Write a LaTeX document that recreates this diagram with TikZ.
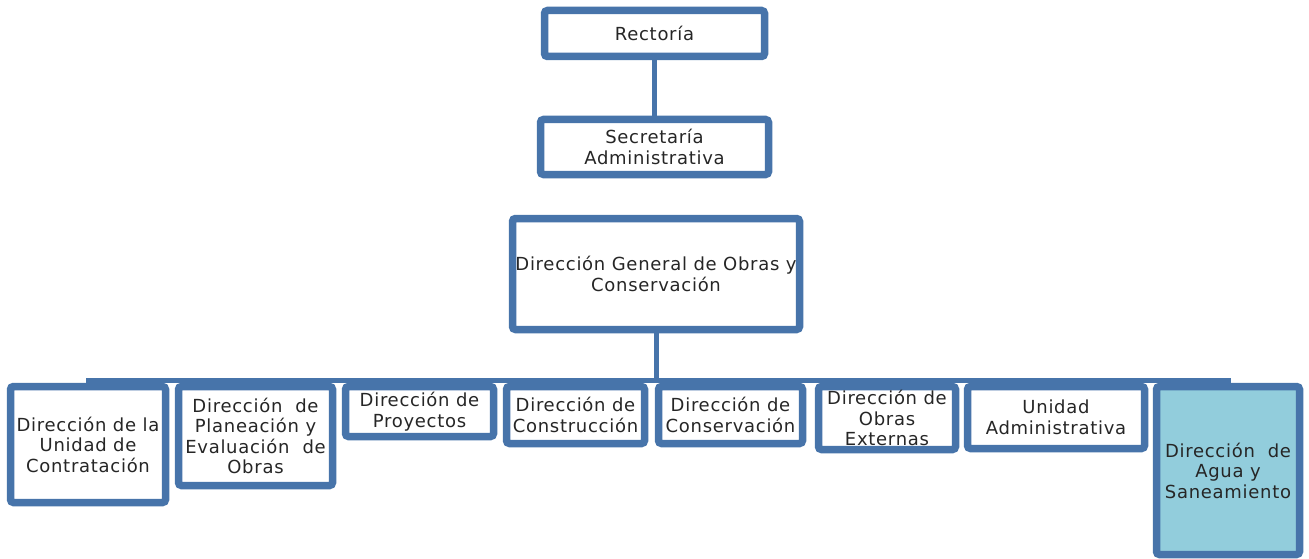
\documentclass[tikz,border=0pt]{standalone}
\usepackage{fontspec}
\setmainfont{DejaVu Sans}[LetterSpace=4]
\usetikzlibrary{shadows,backgrounds}
\definecolor{orgblue}{RGB}{71,116,170}
\definecolor{orgcyan}{RGB}{146,205,220}
\tikzset{
  orgbox/.style={draw=orgblue, line width=7.5pt, fill=white, rounded corners=3pt,
    align=center, inner sep=1pt, text=black!85,
    font=\fontsize{18}{20.5}\selectfont,
    drop shadow={shadow xshift=1.5pt, shadow yshift=-2.5pt, opacity=0.3, fill=black!70}},
  highlight/.style={fill=orgcyan},
  conn/.style={draw=orgblue, line width=5pt}
}
\begin{document}
\begin{tikzpicture}[x=1pt,y=-1pt]
\useasboundingbox (0,0) rectangle (1309,559);

% top of the chart
\node[orgbox, minimum width=220pt, minimum height=46pt] (rect) at (654.5,33.5) {Rectoría};
\node[orgbox, minimum width=228pt, minimum height=55pt] (sec) at (654.5,147) {Secretaría\\Administrativa};
\node[orgbox, minimum width=287pt, minimum height=111pt] (dg) at (656,274) {Dirección General de Obras y\\Conservación};

% directorates
\node[orgbox, minimum width=155pt, minimum height=116pt] (c1) at (88,444.5) {Dirección de la\\Unidad de\\Contratación};
\node[orgbox, minimum width=154pt, minimum height=99pt] (c2) at (255.5,436) {Dirección\ \ de\\Planeación y\\Evaluación\ \ de\\Obras};
\node[orgbox, minimum width=148pt, minimum height=50pt] (c3) at (419.5,411.5) {Dirección de\\Proyectos};
\node[orgbox, minimum width=138pt, minimum height=57pt] (c4) at (575.5,415) {Dirección de\\Construcción};
\node[orgbox, minimum width=144pt, minimum height=57pt] (c5) at (730.5,415) {Dirección de\\Conservación};
\node[orgbox, minimum width=137pt, minimum height=63pt] (c6) at (887,418) {Dirección de\\Obras\\Externas};
\node[orgbox, minimum width=177pt, minimum height=62pt] (c7) at (1056,417.5) {Unidad\\Administrativa};
\node[orgbox, highlight, minimum width=143pt, minimum height=168pt] (c8) at (1228,470.5) {Dirección\ \ de\\Agua y\\Saneamiento};

% connectors behind the boxes
\coordinate (bus) at (657,380);
\begin{scope}[on background layer]
  \draw[conn] (rect) -- (sec);
  \draw[conn] (dg.south) -- (dg.south |- bus);
  \draw[conn] (c1.center) |- (bus) -| (c8.center);
  \foreach \c in {c2,c3,c4,c5,c6,c7}
    \draw[conn] (\c.center) -- (\c.center |- bus);
\end{scope}
\end{tikzpicture}
\end{document}
